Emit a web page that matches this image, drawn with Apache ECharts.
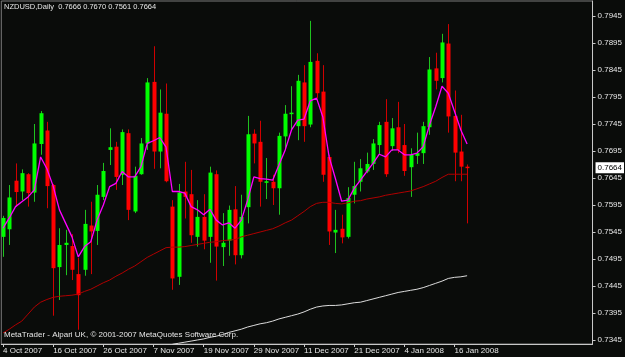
<!DOCTYPE html>
<html>
<head>
<meta charset="utf-8">
<script src="https://cdn.jsdelivr.net/npm/echarts@6/dist/echarts.min.js"></script>
<style>
html, body { margin: 0; padding: 0; background: #0a0c0a; }
#chart { width: 625px; height: 357px; }
</style>
</head>
<body>
<div id="chart"></div>
<script>
var dates = ['4 Oct 2007', '5 Oct 2007', '8 Oct 2007', '9 Oct 2007', '10 Oct 2007', '11 Oct 2007', '12 Oct 2007', '15 Oct 2007',
    '16 Oct 2007', '17 Oct 2007', '18 Oct 2007', '19 Oct 2007', '22 Oct 2007', '23 Oct 2007', '24 Oct 2007', '25 Oct 2007',
    '26 Oct 2007', '29 Oct 2007', '30 Oct 2007', '31 Oct 2007', '1 Nov 2007', '2 Nov 2007', '5 Nov 2007', '6 Nov 2007',
    '7 Nov 2007', '8 Nov 2007', '9 Nov 2007', '12 Nov 2007', '13 Nov 2007', '14 Nov 2007', '15 Nov 2007', '16 Nov 2007',
    '19 Nov 2007', '20 Nov 2007', '21 Nov 2007', '22 Nov 2007', '23 Nov 2007', '26 Nov 2007', '27 Nov 2007', '28 Nov 2007',
    '29 Nov 2007', '30 Nov 2007', '3 Dec 2007', '4 Dec 2007', '5 Dec 2007', '6 Dec 2007', '7 Dec 2007', '10 Dec 2007',
    '11 Dec 2007', '12 Dec 2007', '13 Dec 2007', '14 Dec 2007', '17 Dec 2007', '18 Dec 2007', '19 Dec 2007', '20 Dec 2007',
    '21 Dec 2007', '24 Dec 2007', '26 Dec 2007', '27 Dec 2007', '28 Dec 2007', '31 Dec 2007', '2 Jan 2008', '3 Jan 2008',
    '4 Jan 2008', '7 Jan 2008', '8 Jan 2008', '9 Jan 2008', '10 Jan 2008', '11 Jan 2008', '14 Jan 2008', '15 Jan 2008',
    '16 Jan 2008', '17 Jan 2008', '18 Jan 2008'];

var opens = [0.7536, 0.7550, 0.7640, 0.7620, 0.7652, 0.7618, 0.7708, 0.7733, 0.7632, 0.7480,
    0.7521, 0.7519, 0.7467, 0.7475, 0.7557, 0.7547, 0.7610, 0.7697, 0.7703, 0.7651,
    0.7728, 0.7583, 0.7652, 0.7709, 0.7823, 0.7694, 0.7764, 0.7592, 0.7462, 0.7620,
    0.7615, 0.7536, 0.7573, 0.7536, 0.7652, 0.7517, 0.7529, 0.7587, 0.7502, 0.7591,
    0.7727, 0.7712, 0.7636, 0.7638, 0.7626, 0.7722, 0.7764, 0.7741, 0.7822, 0.7744,
    0.7862, 0.7805, 0.7684, 0.7544, 0.7551, 0.7536, 0.7614, 0.7638, 0.7657, 0.7671,
    0.7706, 0.7749, 0.7704, 0.7739, 0.7706, 0.7665, 0.7686, 0.7691, 0.7739, 0.7848,
    0.7830, 0.7894, 0.7760, 0.7694, 0.7666];
var closes = [0.7571, 0.7609, 0.7619, 0.7654, 0.7617, 0.7709, 0.7765, 0.7630, 0.7478, 0.7521,
    0.7525, 0.7475, 0.7428, 0.7560, 0.7546, 0.7614, 0.7658, 0.7702, 0.7647, 0.7730,
    0.7586, 0.7649, 0.7709, 0.7822, 0.7694, 0.7766, 0.7639, 0.7459, 0.7618, 0.7610,
    0.7539, 0.7573, 0.7529, 0.7655, 0.7518, 0.7525, 0.7586, 0.7502, 0.7573, 0.7726,
    0.7709, 0.7638, 0.7639, 0.7626, 0.7723, 0.7764, 0.7766, 0.7825, 0.7741, 0.7860,
    0.7802, 0.7651, 0.7546, 0.7549, 0.7535, 0.7608, 0.7630, 0.7663, 0.7671, 0.7709,
    0.7743, 0.7652, 0.7737, 0.7697, 0.7658, 0.7688, 0.7691, 0.7741, 0.7846, 0.7825,
    0.7896, 0.7759, 0.7692, 0.7666, 0.7664];
var highs = [0.7575, 0.7632, 0.7672, 0.7661, 0.7654, 0.7745, 0.7769, 0.7749, 0.7634, 0.7552,
    0.7549, 0.7541, 0.7497, 0.7586, 0.7601, 0.7632, 0.7673, 0.7737, 0.7712, 0.7735,
    0.7735, 0.7666, 0.7719, 0.7830, 0.7889, 0.7809, 0.7820, 0.7604, 0.7634, 0.7675,
    0.7660, 0.7604, 0.7615, 0.7666, 0.7659, 0.7580, 0.7594, 0.7630, 0.7614, 0.7760,
    0.7735, 0.7751, 0.7682, 0.7651, 0.7729, 0.7780, 0.7815, 0.7836, 0.7854, 0.7936,
    0.7876, 0.7854, 0.7688, 0.7586, 0.7577, 0.7628, 0.7675, 0.7680, 0.7692, 0.7717,
    0.7749, 0.7791, 0.7756, 0.7786, 0.7745, 0.7700, 0.7729, 0.7749, 0.7869, 0.7877,
    0.7912, 0.7930, 0.7807, 0.7762, 0.7670];
var lows = [0.7499, 0.7521, 0.7592, 0.7604, 0.7592, 0.7601, 0.7688, 0.7589, 0.7390, 0.7419,
    0.7465, 0.7456, 0.7364, 0.7464, 0.7467, 0.7521, 0.7604, 0.7669, 0.7623, 0.7632,
    0.7567, 0.7580, 0.7651, 0.7697, 0.7662, 0.7663, 0.7637, 0.7438, 0.7447, 0.7570,
    0.7525, 0.7518, 0.7513, 0.7488, 0.7455, 0.7482, 0.7501, 0.7485, 0.7496, 0.7561,
    0.7672, 0.7592, 0.7606, 0.7595, 0.7577, 0.7697, 0.7734, 0.7715, 0.7712, 0.7739,
    0.7793, 0.7638, 0.7521, 0.7506, 0.7524, 0.7533, 0.7598, 0.7620, 0.7654, 0.7660,
    0.7688, 0.7647, 0.7695, 0.7691, 0.7649, 0.7610, 0.7671, 0.7671, 0.7725, 0.7809,
    0.7822, 0.7729, 0.7639, 0.7639, 0.7561];

// moving averages (magenta, dark red, white)
var maFast = [0.7552, 0.7571, 0.7592, 0.7601, 0.7610, 0.7623, 0.7684, 0.7662, 0.7630, 0.7586,
    0.7561, 0.7536, 0.7499, 0.7518, 0.7527, 0.7567, 0.7595, 0.7629, 0.7635, 0.7657,
    0.7647, 0.7647, 0.7666, 0.7709, 0.7714, 0.7720, 0.7702, 0.7620, 0.7620, 0.7617,
    0.7592, 0.7586, 0.7577, 0.7587, 0.7567, 0.7558, 0.7562, 0.7552, 0.7567, 0.7604,
    0.7647, 0.7644, 0.7643, 0.7641, 0.7669, 0.7697, 0.7734, 0.7752, 0.7754, 0.7788,
    0.7793, 0.7758, 0.7684, 0.7644, 0.7602, 0.7604, 0.7626, 0.7641, 0.7657, 0.7672,
    0.7689, 0.7684, 0.7697, 0.7697, 0.7688, 0.7688, 0.7691, 0.7703, 0.7743, 0.7777,
    0.7815, 0.7802, 0.7768, 0.7734, 0.7708];
var maMid = [0.7358, 0.7365, 0.7373, 0.7380, 0.7393, 0.7406, 0.7415, 0.7420, 0.7424, 0.7426,
    0.7427, 0.7428, 0.7430, 0.7435, 0.7439, 0.7445, 0.7451, 0.7456, 0.7463, 0.7469,
    0.7476, 0.7482, 0.7490, 0.7498, 0.7504, 0.7510, 0.7516, 0.7517, 0.7517, 0.7518,
    0.7520, 0.7522, 0.7524, 0.7526, 0.7527, 0.7529, 0.7530, 0.7531, 0.7536, 0.7539,
    0.7542, 0.7545, 0.7548, 0.7551, 0.7556, 0.7562, 0.7567, 0.7575, 0.7583, 0.7592,
    0.7598, 0.7600, 0.7600, 0.7598, 0.7597, 0.7599, 0.7602, 0.7603, 0.7606, 0.7608,
    0.7610, 0.7613, 0.7615, 0.7617, 0.7619, 0.7621, 0.7625, 0.7629, 0.7634, 0.7639,
    0.7646, 0.7652, 0.7652, 0.7652, 0.7652];
var maSlow = [null, null, null, null, null, null, null, null, null, null,
    null, null, null, null, null, null, null, null, null, null,
    null, null, null, null, null, null, null, 0.7337, 0.7339, 0.7341,
    0.7343, 0.7345, 0.7347, 0.7350, 0.7352, 0.7355, 0.7359, 0.7362, 0.7365, 0.7369,
    0.7372, 0.7375, 0.7377, 0.7380, 0.7384, 0.7387, 0.7390, 0.7393, 0.7397, 0.7402,
    0.7406, 0.7408, 0.7409, 0.7409, 0.7410, 0.7412, 0.7414, 0.7415, 0.7418, 0.7421,
    0.7424, 0.7427, 0.7430, 0.7433, 0.7435, 0.7437, 0.7439, 0.7442, 0.7446, 0.7450,
    0.7454, 0.7459, 0.7461, 0.7462, 0.7464];

var yTicks = [0.7345, 0.7395, 0.7445, 0.7495, 0.7545, 0.7595, 0.7645, 0.7695, 0.7745, 0.7795, 0.7845, 0.7895, 0.7945];
var xTicks = [0, 8, 16, 24, 32, 40, 48, 56, 64, 72];
var xMin = -0.27, xMax = 94.0;
var lastPrice = 0.7664;

ChartUtil = function (me) {
    return me = {
        font: 'Liberation Sans',
        toLine: function (arr) {
            var out = [];
            for (var i = 0; i < arr.length; i++) {
                out.push([i, arr[i]]);
            }
            return out;
        },
        renderCandle: function (params, api) {
            var i = api.value(0), o = api.value(1), c = api.value(2), l = api.value(3), h = api.value(4);
            var pO = api.coord([i, o]), pC = api.coord([i, c]),
                pL = api.coord([i, l]), pH = api.coord([i, h]);
            var cx = Math.round(pO[0]);
            var up = c >= o;
            var top = Math.min(pO[1], pC[1]), bot = Math.max(pO[1], pC[1]);
            if (bot - top < 1.5) {
                bot = top + 1.5;
            }
            return {
                type: 'group',
                children: [
                    {
                        type: 'line',
                        shape: {x1: cx + 0.5, y1: pH[1], x2: cx + 0.5, y2: pL[1]},
                        style: {stroke: up ? '#1fc21f' : '#d00000', lineWidth: 1}
                    },
                    {
                        type: 'rect',
                        shape: {x: cx - 1.5, y: top, width: 4, height: bot - top},
                        style: {fill: up ? '#00ff00' : '#ff0000'}
                    }
                ]
            };
        },
        init: function () {
            var dom = document.getElementById('chart');
            var ech = echarts.init(dom);
            var candles = [];
            for (var i = 0; i < opens.length; i++) {
                candles.push([i, opens[i], closes[i], lows[i], highs[i]]);
            }
            var txt = {color: '#e6e6e6', fontSize: 8, fontWeight: 'normal', fontFamily: me.font};
            var option = {
                backgroundColor: '#0a0c0a',
                animation: false,
                title: [
                    {
                        text: 'NZDUSD,Daily  0.7666 0.7670 0.7561 0.7664', left: 4, top: 3, padding: 0,
                        textStyle: {color: '#e6e6e6', fontSize: 7.5, fontWeight: 'normal', fontFamily: me.font}
                    },
                    {text: 'MetaTrader - Alpari UK, \u00a9 2001-2007 MetaQuotes Software Corp.', left: 4, top: 331, padding: 0, textStyle: txt}
                ],
                grid: {
                    left: 1, right: 31, top: 1, bottom: 13,
                    show: true, borderColor: '#7a7a7a', borderWidth: 1
                },
                xAxis: {
                    type: 'value',
                    min: xMin,
                    max: xMax,
                    splitLine: {show: false},
                    axisLine: {onZero: false, lineStyle: {color: '#c8c8c8'}},
                    axisTick: {customValues: xTicks, length: 3, lineStyle: {color: '#c8c8c8'}},
                    axisLabel: {
                        customValues: xTicks,
                        formatter: function (v) { return dates[v]; },
                        align: 'left', margin: 3,
                        color: '#e6e6e6', fontSize: 8, fontFamily: me.font
                    }
                },
                yAxis: {
                    type: 'value',
                    position: 'right',
                    min: 0.733759,
                    max: 0.797278,
                    splitLine: {show: false},
                    axisLine: {show: true, onZero: false, lineStyle: {color: '#c8c8c8'}},
                    axisTick: {customValues: yTicks, length: 3, lineStyle: {color: '#c8c8c8'}},
                    axisLabel: {
                        customValues: yTicks,
                        formatter: function (v) { return v.toFixed(4); },
                        margin: 5,
                        color: '#e6e6e6', fontSize: 8, fontFamily: me.font
                    }
                },
                series: [
                    {
                        type: 'custom',
                        renderItem: me.renderCandle,
                        data: candles,
                        encode: {x: 0, y: [1, 2, 3, 4]},
                        clip: true,
                        z: 2
                    },
                    {
                        type: 'line', data: me.toLine(maSlow), symbol: 'none', z: 3,
                        lineStyle: {color: '#dcdcdc', width: 1}
                    },
                    {
                        type: 'line', data: me.toLine(maMid), symbol: 'none', z: 3,
                        lineStyle: {color: '#b00000', width: 1}
                    },
                    {
                        type: 'line', data: me.toLine(maFast), symbol: 'none', z: 4,
                        lineStyle: {color: '#ff00ff', width: 1.3},
                        // current price box on the price scale
                        markPoint: {
                            silent: true,
                            symbol: 'rect',
                            symbolSize: 0,
                            data: [{coord: [xMax, lastPrice]}],
                            label: {
                                show: true,
                                position: 'right', distance: 3,
                                formatter: lastPrice.toFixed(4),
                                backgroundColor: '#ffffff', color: '#000000',
                                padding: [2, 2, 1, 2], fontSize: 8, fontFamily: me.font
                            }
                        }
                    }
                ]
            };
            ech.setOption(option);
        }
    };
}();
ChartUtil.init();
</script>
</body>
</html>
